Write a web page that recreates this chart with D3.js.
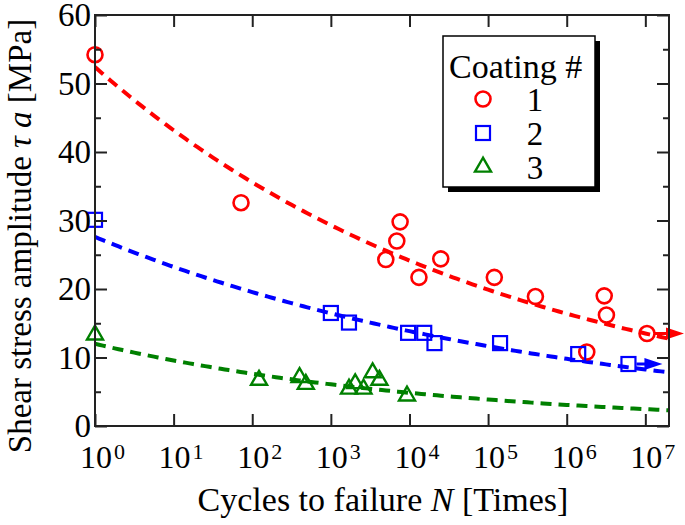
<!DOCTYPE html>
<html>
<head>
<meta charset="utf-8">
<script src="https://cdn.jsdelivr.net/npm/d3@7/dist/d3.min.js"></script>
<style>
  html, body { margin: 0; padding: 0; background: #fff; }
  svg { display: block; font-family: "Liberation Serif", "Times New Roman", serif; }
</style>
</head>
<body>
<svg id="chart" width="685" height="525"></svg>
<script>
// ---- data ----
const coatings = ["1", "2", "3"];
const colors = ["#ff0000", "#0000ff", "#008000"];
const shapes = ["circle", "square", "triangle"];

const redN   = [1, 72, 7600, 6900, 5000, 13200, 25000, 120000, 400000, 3.0e6, 3.2e6, 1.05e7, 1.8e6];
const redT   = [54.2, 32.6, 29.8, 27.0, 24.3, 21.7, 24.4, 21.7, 18.9, 19.0, 16.2, 13.5, 10.8];
const redRunout = [11];

const blueN  = [1, 1000, 1700, 9600, 15400, 20800, 142000, 1.4e6, 6.1e6];
const blueT  = [30.1, 16.5, 15.1, 13.6, 13.6, 12.1, 12.1, 10.5, 9.05];
const blueRunout = [8];

const greenN = [1, 122, 400, 480, 1700, 2040, 2600, 3400, 4150, 9300];
const greenT = [13.3, 6.7, 7.1, 6.1, 5.4, 6.2, 5.4, 7.8, 6.7, 4.4];
const greenRunout = [];

// power-law fit  tau = A * N^b
const fitA = [52.4, 27.6, 12.0];
const fitB = [-0.0841, -0.0749, -0.0984];

const xTicks = [1, 10, 100, 1e3, 1e4, 1e5, 1e6, 1e7];
const xTickExp = ["0", "1", "2", "3", "4", "5", "6", "7"];
const yTicks = [0, 10, 20, 30, 40, 50, 60];
const yMinorTicks = [5, 15, 25, 35, 45, 55];

const seriesN = [redN, blueN, greenN];
const seriesT = [redT, blueT, greenT];
const seriesRunout = [redRunout, blueRunout, greenRunout];

// ---- layout ----
const svg = d3.select("#chart");
const L = 95, R = 669, T = 15, B = 426;
const x = d3.scaleLog().domain([1, 2e7]).range([L, R]);
const y = d3.scaleLinear().domain([0, 60]).range([B, T]);
const axisColor = "#222";

// clip
svg.append("defs").append("clipPath").attr("id", "clip")
  .append("rect").attr("x", L).attr("y", T).attr("width", R - L).attr("height", B - T);

// fit curves
const line = d3.line().x(d => x(d[0])).y(d => y(d[1]));
coatings.forEach((c, i) => {
  const pts = d3.range(0, 7.301 + 1e-9, 0.05).map(e => {
    const n = Math.pow(10, e);
    return [n, fitA[i] * Math.pow(n, fitB[i])];
  });
  svg.append("path").attr("clip-path", "url(#clip)")
    .attr("d", line(pts))
    .attr("fill", "none")
    .attr("stroke", colors[i])
    .attr("stroke-width", 4)
    .attr("stroke-dasharray", "11 7");
});

// markers
function marker(g, shape, cx, cy, color) {
  if (shape === "circle") {
    g.append("circle").attr("cx", cx).attr("cy", cy).attr("r", 7.5)
      .attr("fill", "none").attr("stroke", color).attr("stroke-width", 2.6);
  } else if (shape === "square") {
    g.append("rect").attr("x", cx - 7).attr("y", cy - 7).attr("width", 14).attr("height", 14)
      .attr("fill", "none").attr("stroke", color).attr("stroke-width", 2.2);
  } else {
    const s = 16, h = s * Math.sqrt(3) / 2;
    const p = [[cx, cy - h * 2 / 3], [cx - s / 2, cy + h / 3], [cx + s / 2, cy + h / 3]];
    g.append("path").attr("d", "M" + p.map(q => q.join(",")).join("L") + "Z")
      .attr("fill", "none").attr("stroke", color).attr("stroke-width", 2.4)
      .attr("stroke-linejoin", "miter");
  }
}

const mg = svg.append("g");
coatings.forEach((c, i) => {
  seriesN[i].forEach((n, j) => {
    marker(mg, shapes[i], x(n), y(seriesT[i][j]), colors[i]);
  });
});

// runout arrows
coatings.forEach((c, i) => {
  seriesRunout[i].forEach(j => {
    const cx = x(seriesN[i][j]), cy = y(seriesT[i][j]);
    const x0 = cx + 8, x1 = i === 0 ? cx + 37 : cx + 34;
    const hl = 18, hw = 6;
    svg.append("line").attr("x1", x0).attr("y1", cy).attr("x2", x1 - hl + 2).attr("y2", cy)
      .attr("stroke", colors[i]).attr("stroke-width", 3);
    svg.append("path")
      .attr("d", `M${x1},${cy}L${x1 - hl},${cy - hw}L${x1 - hl},${cy + hw}Z`)
      .attr("fill", colors[i]);
  });
});

// axes
function styleAxis(g) {
  g.select(".domain").remove();
  g.selectAll(".tick line").attr("stroke", axisColor).attr("stroke-width", 2);
}
svg.append("g").attr("transform", `translate(0,${B})`)
  .call(d3.axisBottom(x).tickValues(xTicks).tickSize(-12).tickFormat(""))
  .call(styleAxis);
svg.append("g").attr("transform", `translate(0,${T})`)
  .call(d3.axisTop(x).tickValues(xTicks).tickSize(-12).tickFormat(""))
  .call(styleAxis);
svg.append("g").attr("transform", `translate(${L},0)`)
  .call(d3.axisLeft(y).tickValues(yTicks).tickSize(-12).tickFormat(""))
  .call(styleAxis);
svg.append("g").attr("transform", `translate(${L},0)`)
  .call(d3.axisLeft(y).tickValues(yMinorTicks).tickSize(-6).tickFormat(""))
  .call(styleAxis);
svg.append("g").attr("transform", `translate(${R},0)`)
  .call(d3.axisRight(y).tickValues(yTicks).tickSize(-12).tickFormat(""))
  .call(styleAxis);
svg.append("g").attr("transform", `translate(${R},0)`)
  .call(d3.axisRight(y).tickValues(yMinorTicks).tickSize(-6).tickFormat(""))
  .call(styleAxis);

// frame
svg.append("rect").attr("x", L).attr("y", T).attr("width", R - L).attr("height", B - T)
  .attr("fill", "none").attr("stroke", axisColor).attr("stroke-width", 2);

// y tick labels
svg.append("g").selectAll("text").data(yTicks).join("text")
  .attr("x", L - 4).attr("y", d => y(d)).attr("dy", "0.34em")
  .attr("text-anchor", "end").attr("font-size", 33).attr("fill", "#000")
  .text(d => d);

// x tick labels: 10^k
const xl = svg.append("g");
xTicks.forEach((t, k) => {
  const tx = xl.append("text").attr("x", x(t) - 15).attr("y", 468)
    .attr("font-size", 32).attr("fill", "#000");
  tx.append("tspan").text("10");
  tx.append("tspan").attr("font-size", 22).attr("dy", -9).attr("dx", 2).text(xTickExp[k]);
});

// axis titles
const xt = svg.append("text").attr("x", 383).attr("y", 511)
  .attr("text-anchor", "middle").attr("font-size", 34).attr("fill", "#000");
xt.append("tspan").text("Cycles to failure ");
xt.append("tspan").attr("font-style", "italic").text("N");
xt.append("tspan").text(" [Times]");

const yt = svg.append("text").attr("transform", "translate(31,236) rotate(-90)")
  .attr("text-anchor", "middle").attr("font-size", 33).attr("fill", "#000");
yt.append("tspan").text("Shear stress amplitude ");
yt.append("tspan").attr("font-style", "italic").text("τ a");
yt.append("tspan").text(" [MPa]");

// legend
const lx = 443, ly = 36, lw = 152, lh = 151;
svg.append("rect").attr("x", lx + 5).attr("y", ly + 5).attr("width", lw).attr("height", lh).attr("fill", "#000");
svg.append("rect").attr("x", lx).attr("y", ly).attr("width", lw).attr("height", lh)
  .attr("fill", "#fff").attr("stroke", "#000").attr("stroke-width", 1.5);
svg.append("text").attr("x", lx + 6).attr("y", ly + 42).attr("font-size", 34).attr("fill", "#000")
  .text("Coating #");
const legY = [ly + 63, ly + 97, ly + 131];
coatings.forEach((c, i) => {
  marker(svg, shapes[i], lx + 40, legY[i], colors[i]);
  svg.append("text").attr("x", lx + 92).attr("y", legY[i]).attr("dy", "0.35em")
    .attr("text-anchor", "middle").attr("font-size", 33).attr("fill", "#000").text(c);
});
</script>
</body>
</html>
